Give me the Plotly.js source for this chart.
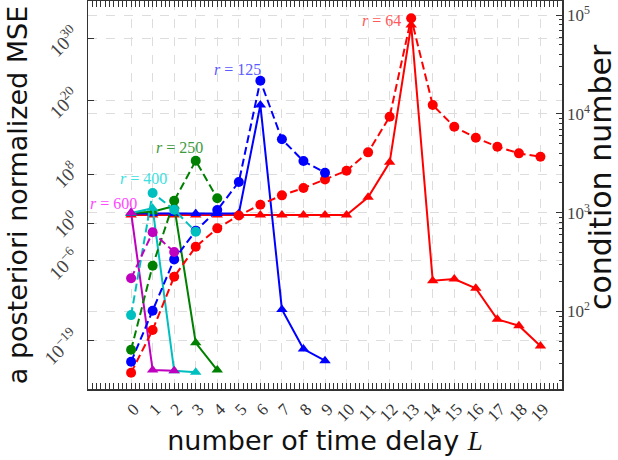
<!DOCTYPE html>
<html>
<head>
<meta charset="utf-8">
<script src="https://cdn.plot.ly/plotly-3.0.1.min.js"></script>
<style>
  html, body { margin: 0; padding: 0; background: #ffffff; }
  #chart { width: 618px; height: 460px; }
</style>
</head>
<body>
<div id="chart"></div>
<script>
// Number of time delays L on the horizontal axis
const delays = [0, 1, 2, 3, 4, 5, 6, 7, 8, 9, 10, 11, 12, 13, 14, 15, 16, 17, 18, 19];

// Ranks r of each run
const ranks = [64, 125, 250, 400, 600];

// A posteriori normalized MSE (left axis, solid lines with triangles)
const mseR64  = [25, 25, 25, 25, 25, 25, 25, 25, 25, 25, 25, 1.8e4, 8.3e9, 1.4e32, 5.8e-10, 1.1e-9, 3.4e-11, 3.2e-16, 3.0e-17, 1.5e-20];
const mseR125 = [43, 43, 43, 43, 43, 43, 1.6e19, 1.3e-14, 5e-21, 6.5e-23];
const mseR250 = [52, 85, 700, 5.2e-20, 2e-24];
const mseR400 = [52, 300, 1.5e-24, 8.5e-25];
const mseR600 = [63, 2e-24, 1.5e-24];

// Condition number (right axis, dashed lines with circles)
const condR64  = [24, 65, 225, 453, 695, 938, 1205, 1500, 1778, 2168, 2661, 4083, 9376, 92900, 12300, 7413, 5741, 4656, 3990, 3690];
const condR125 = [31, 102, 337, 658, 1064, 2046, 21680, 5534, 3334, 2541];
const condR250 = [41, 291, 1321, 3357, 1400];
const condR400 = [92, 1585, 1072, 643];
const condR600 = [217, 634, 400];

// Axis tick labels
const xTickText = delays.map(String);
const mseTickVals = [1e-19, 1e-6, 1, 1e8, 1e20, 1e30];
const mseTickText = ['10<sup>\u221219</sup>', '10<sup>\u22126</sup>', '10<sup>0</sup>', '10<sup>8</sup>', '10<sup>20</sup>', '10<sup>30</sup>'];
const condTickVals = [1e2, 1e3, 1e4, 1e5];
const condTickText = ['10<sup>2</sup>', '10<sup>3</sup>', '10<sup>4</sup>', '10<sup>5</sup>'];

const mseSeries = [mseR64, mseR125, mseR250, mseR400, mseR600];
const condSeries = [condR64, condR125, condR250, condR400, condR600];

// Styling per rank
const lineColors  = ['#ff0000', '#0000ff', '#008000', '#00bfbf', '#bf00bf'];
const labelColors = ['#ff5a5a', '#5a5aff', '#3d9a3d', '#3ee0e0', '#ff48ff'];
// pixel offsets of each r-label from the peak of its condition-number curve
const labelShift = [[-8, -2], [3, 11], [9, 13], [16, 14], [-14, 29]];

const serif = 'Liberation Serif, DejaVu Serif, serif';
const sans = 'DejaVu Sans, sans-serif';

const traces = [];
// solid MSE curves first (left axis)
mseSeries.forEach((vals, i) => {
  traces.push({
    x: delays.slice(0, vals.length), y: vals, yaxis: 'y',
    type: 'scatter', mode: 'lines+markers',
    line: { color: lineColors[i], width: 2 },
    marker: { symbol: 'triangle-up', size: 10, color: lineColors[i] },
    hoverinfo: 'skip', showlegend: false
  });
});
// dashed condition-number curves on the twin axis
condSeries.forEach((vals, i) => {
  traces.push({
    x: delays.slice(0, vals.length), y: vals, yaxis: 'y2',
    type: 'scatter', mode: 'lines+markers',
    line: { color: lineColors[i], width: 2, dash: '8px,4px' },
    marker: { symbol: 'circle', size: 10, color: lineColors[i] },
    hoverinfo: 'skip', showlegend: false
  });
});

// r-labels next to the peak of each condition-number curve
const annotations = condSeries.map((vals, i) => {
  let k = 0;
  vals.forEach((v, j) => { if (v > vals[k]) k = j; });
  return {
    x: delays[k], y: Math.log10(vals[k]), xref: 'x', yref: 'y2',
    text: '<i>r</i> = ' + ranks[i],
    showarrow: false, xanchor: 'right', yanchor: 'middle',
    xshift: labelShift[i][0], yshift: labelShift[i][1],
    font: { family: serif, size: 16, color: labelColors[i] }
  };
});

// title of the right-hand axis
annotations.push({
  text: 'condition number', xref: 'paper', yref: 'paper',
  x: 1.080, y: 0.546, xanchor: 'center', yanchor: 'middle',
  textangle: -90, showarrow: false,
  font: { family: sans, size: 30, color: '#111' }
});

const gridStyle = { showgrid: true, gridcolor: '#dddddd', griddash: 'dash', gridwidth: 1 };

const layout = {
  width: 618, height: 460,
  margin: { l: 88, r: 56, t: 1, b: 71, pad: 0 },
  paper_bgcolor: '#ffffff', plot_bgcolor: '#ffffff',
  showlegend: false,
  xaxis: Object.assign({
    range: [-2, 20], tickvals: delays, ticktext: xTickText,
    tickangle: -45, ticks: 'inside', ticklen: 6, tickcolor: '#333',
    ticklabelshift: 3, ticklabelstandoff: 2,
    mirror: 'allticks', showline: true, linecolor: '#333', linewidth: 1.5,
    zeroline: false,
    tickfont: { family: serif, size: 17, color: '#333' },
    minor: { ticks: 'inside', ticklen: 3, tick0: 0, dtick: 0.2, tickcolor: '#333', showgrid: false },
    title: {
      text: 'number of time delay <span style="font-family:Liberation Serif"><i>L</i></span>',
      font: { family: sans, size: 27, color: '#111' }, standoff: 6
    }
  }, gridStyle),
  yaxis: Object.assign({
    type: 'log', range: [-26.77, 36.03],
    tickvals: mseTickVals, ticktext: mseTickText, tickangle: -45,
    ticks: 'inside', ticklen: 6, tickcolor: '#333',
    ticklabelshift: -7, ticklabelstandoff: 9,
    showline: true, linecolor: '#333', linewidth: 1.5, zeroline: false,
    tickfont: { family: serif, size: 19, color: '#444' },
    title: { text: 'a posteriori normalized MSE', font: { family: sans, size: 27, color: '#111' }, standoff: 2 }
  }, gridStyle),
  yaxis2: Object.assign({
    type: 'log', range: [1.216, 5.143], overlaying: 'y', side: 'right',
    tickvals: condTickVals, ticktext: condTickText,
    ticks: 'inside', ticklen: 6, tickcolor: '#333',
    showline: true, linecolor: '#333', linewidth: 1.5, zeroline: false,
    tickfont: { family: serif, size: 17, color: '#444' },
    minor: { ticks: 'inside', ticklen: 3, dtick: 'D1', tickcolor: '#333', showgrid: false }
  }, gridStyle),
  annotations: annotations
};

Plotly.newPlot('chart', traces, layout, { staticPlot: true, displayModeBar: false });
</script>
</body>
</html>
